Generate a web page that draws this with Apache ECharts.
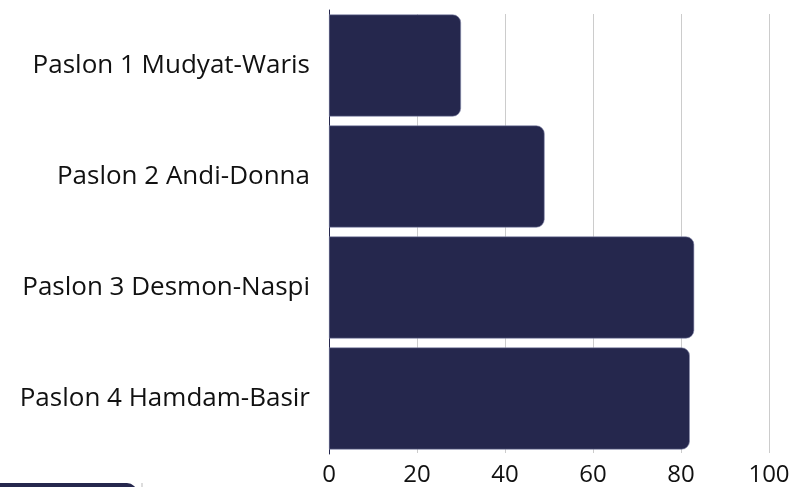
<!DOCTYPE html>
<html>
<head>
<meta charset="utf-8">
<script src="https://cdn.jsdelivr.net/npm/echarts@6/dist/echarts.min.js"></script>
<style>
  html, body { margin: 0; padding: 0; background: #fff; }
  #chart { width: 801px; height: 487px; }
</style>
</head>
<body>
<div id="chart"></div>
<script>
// 数据
const categories = ['Paslon 1 Mudyat-Waris', 'Paslon 2 Andi-Donna', 'Paslon 3 Desmon-Naspi', 'Paslon 4 Hamdam-Basir']
const values = [30, 49, 83, 82]
const xTicks = [0, 20, 40, 60, 80, 100]

const navy = '#25274d'
const fontFamily = '"Open Sans", Lato, sans-serif'

const chart = echarts.init(document.getElementById('chart'))

chart.setOption({
  animation: false,
  grid: [
    // 柱子所在网格
    { left: 329, right: 32, top: 10, height: 448 },
    // 只画竖向网格线（比柱子区域略短）
    { left: 329, right: 32, top: 14, height: 439 }
  ],
  xAxis: [
    {
      type: 'value',
      gridIndex: 0,
      min: xTicks[0],
      max: xTicks[xTicks.length - 1],
      interval: 20,
      axisLine: { show: false },
      axisTick: { show: false },
      splitLine: { show: false },
      axisLabel: {
        margin: 9,
        fontSize: 24,
        fontFamily: fontFamily,
        color: '#111'
      }
    },
    {
      type: 'value',
      gridIndex: 1,
      min: xTicks[0],
      max: xTicks[xTicks.length - 1],
      interval: 20,
      axisLine: { show: false },
      axisTick: { show: false },
      axisLabel: { show: false },
      splitLine: { show: true, lineStyle: { color: '#cccccc', width: 1 } }
    }
  ],
  yAxis: [
    {
      type: 'category',
      gridIndex: 0,
      inverse: true,
      data: categories,
      axisLine: { show: true, lineStyle: { color: navy, width: 1 } },
      axisTick: { show: false },
      axisLabel: {
        margin: 19,
        fontSize: 26,
        fontFamily: fontFamily,
        color: '#111'
      }
    },
    {
      type: 'category',
      gridIndex: 1,
      show: false,
      data: categories
    }
  ],
  series: [
    {
      type: 'bar',
      xAxisIndex: 0,
      yAxisIndex: 0,
      data: values,
      barCategoryGap: '8%',
      z: 3,
      itemStyle: {
        color: navy,
        borderColor: '#8c8eb0',
        borderWidth: 0.6,
        borderRadius: [0, 8, 8, 0]
      }
    }
  ],
  graphic: [
    {
      type: 'rect',
      left: -12,
      top: 483,
      shape: { width: 149, height: 20, r: 10 },
      style: { fill: navy }
    },
    {
      type: 'rect',
      left: 141,
      top: 483,
      shape: { width: 2, height: 4 },
      style: { fill: '#dddddd' }
    }
  ]
})

window.addEventListener('resize', function () {
  chart.resize()
})
</script>
</body>
</html>
